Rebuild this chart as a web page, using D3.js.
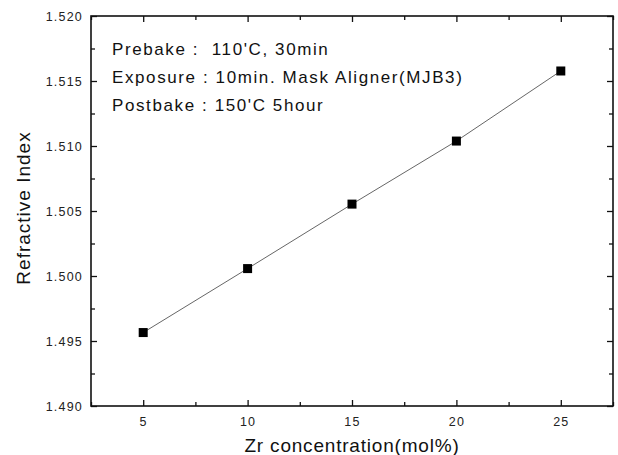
<!DOCTYPE html>
<html>
<head>
<meta charset="utf-8">
<script src="https://cdn.jsdelivr.net/npm/d3@7"></script>
<style>
	body { margin: 0; background: #fff; }
	svg { display: block; font-family: 'Liberation Sans', Arial, sans-serif; }
</style>
</head>
<body>
<svg id="chart" width="618" height="455"></svg>
<script>
const zr = [ 5, 10, 15, 20, 25 ];
const index = [ 1.49565, 1.50057, 1.50553, 1.51038, 1.51577 ];
const xTicks = [ 5, 10, 15, 20, 25 ];
const yTicks = [ 1.490, 1.495, 1.500, 1.505, 1.510, 1.515, 1.520 ];
const notes = [ 'Prebake :  110\'C, 30min', 'Exposure : 10min. Mask Aligner(MJB3)', 'Postbake : 150\'C 5hour' ];

const svg = d3.select('svg#chart');
const margin = { top: 16, right: 5, bottom: 49, left: 91 };
const width = 618 - margin.left - margin.right;
const height = 455 - margin.top - margin.bottom;

const x = d3.scaleLinear([ 2.5, 27.5 ], [ 0, width ]);
const y = d3.scaleLinear([ 1.490, 1.520 ], [ height, 0 ]);

const g = svg.append('g').attr('transform', `translate(${margin.left},${margin.top})`);

const xMinor = d3.range(2.5, 27.6, 2.5).filter(d => d % 5 !== 0);
const yMinor = d3.range(1.4925, 1.520, 0.005);

// major + minor ticks, pointing inward on every side
function ticks (axis, scale, vals, minor, fmt, pad) {
	const a = axis(scale).tickValues(vals).tickSizeInner(-6).tickSizeOuter(0).tickPadding(pad || 9);
	if (fmt) a.tickFormat(fmt); else a.tickFormat('');
	const m = axis(scale).tickValues(minor).tickSizeInner(-4).tickSizeOuter(0).tickFormat('');
	return [ a, m ];
}

const [ xb, xbm ] = ticks(d3.axisBottom, x, xTicks, xMinor, d3.format('d'), 11);
const [ xt, xtm ] = ticks(d3.axisTop, x, xTicks, xMinor);
const [ yl, ylm ] = ticks(d3.axisLeft, y, yTicks, yMinor, d3.format('.3f'), 8);
const [ yr, yrm ] = ticks(d3.axisRight, y, yTicks, yMinor);

g.append('g').attr('transform', `translate(0,${height})`).call(xb);
g.append('g').attr('transform', `translate(0,${height})`).call(xbm);
g.append('g').call(xt);
g.append('g').call(xtm);
g.append('g').call(yl);
g.append('g').call(ylm);
g.append('g').attr('transform', `translate(${width},0)`).call(yr);
g.append('g').attr('transform', `translate(${width},0)`).call(yrm);

g.selectAll('.domain').remove();
g.selectAll('.tick line').attr('stroke', '#111').attr('stroke-width', 1.3);
g.selectAll('.tick text')
	.attr('font-size', 12.5)
	.attr('letter-spacing', 1.2)
	.attr('fill', '#222');

g.append('rect')
	.attr('x', 0).attr('y', 0)
	.attr('width', width).attr('height', height)
	.attr('fill', 'none').attr('stroke', '#111').attr('stroke-width', 1.6);

const line = d3.line()
	.x((d, i) => x(zr[i]))
	.y(d => y(d));

g.append('path')
	.datum(index)
	.attr('d', line)
	.attr('fill', 'none')
	.attr('stroke', '#555')
	.attr('stroke-width', 0.9);

g.selectAll('rect.pt').data(index).join('rect')
	.attr('class', 'pt')
	.attr('x', (d, i) => x(zr[i]) - 4.5)
	.attr('y', d => y(d) - 4.5)
	.attr('width', 9).attr('height', 9)
	.attr('fill', '#000');

g.selectAll('text.note').data(notes).join('text')
	.attr('class', 'note')
	.attr('x', 21)
	.attr('y', (d, i) => 39 + i * 28)
	.attr('font-size', 17)
	.attr('letter-spacing', 1.6)
	.attr('fill', '#111')
	.style('white-space', 'pre')
	.text(d => d);

svg.append('text')
	.attr('x', margin.left + width / 2)
	.attr('y', 452)
	.attr('text-anchor', 'middle')
	.attr('font-size', 19)
	.attr('letter-spacing', 0.8)
	.attr('fill', '#111')
	.text('Zr concentration(mol%)');

svg.append('text')
	.attr('transform', `translate(30,${margin.top + height / 2 - 3}) rotate(-90)`)
	.attr('text-anchor', 'middle')
	.attr('font-size', 19)
	.attr('letter-spacing', 1)
	.attr('fill', '#111')
	.text('Refractive Index');
</script>
</body>
</html>
